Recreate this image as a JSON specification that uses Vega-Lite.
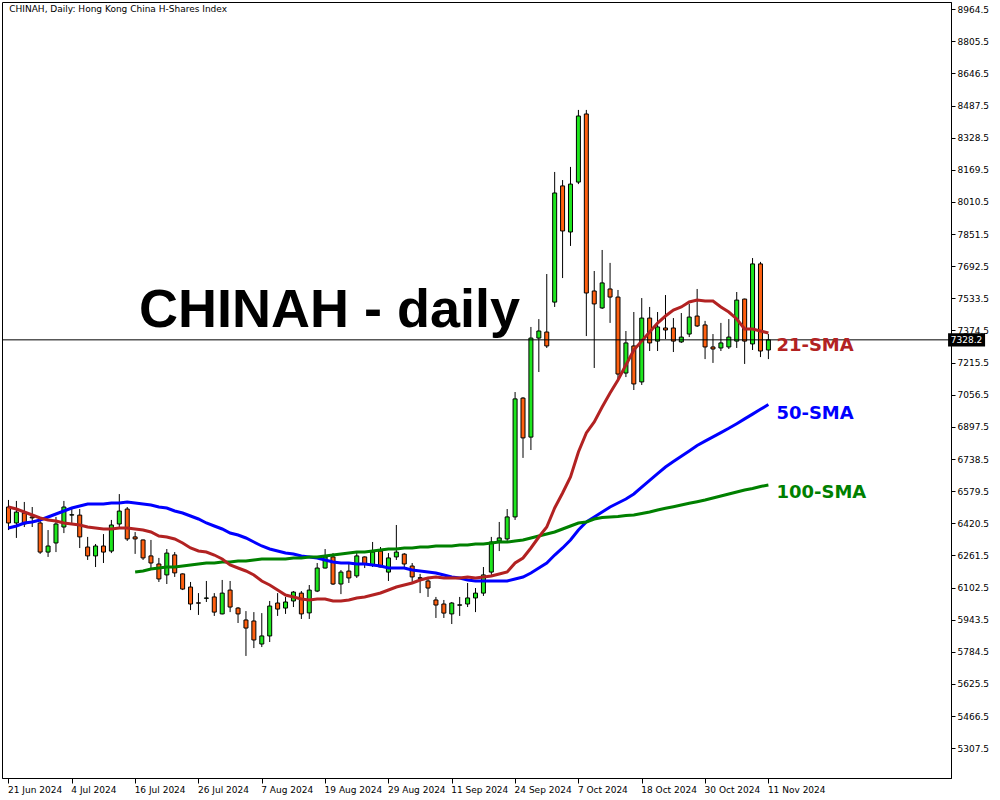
{
  "$schema": "https://vega.github.io/schema/vega-lite/v6.json",
  "width": 949,
  "height": 776,
  "autosize": "none",
  "padding": {"left": 2, "top": 2, "right": 49, "bottom": 22},
  "background": "white",
  "config": {
    "view": {"stroke": "black", "strokeWidth": 1},
    "axis": {"grid": false, "title": null, "domainColor": "black", "tickColor": "black", "labelColor": "black", "labelFont": "DejaVu Sans", "labelFontSize": 9, "labelOverlap": false, "labelFlush": false, "labelBound": false}
  },
  "data": {"values": [
    {"d": "2024-06-21", "i": 0, "o": 6501, "h": 6536, "l": 6387, "c": 6422, "s21": 6501.1, "s50": 6397.1, "s100": null},
    {"d": "2024-06-24", "i": 1, "o": 6422, "h": 6531, "l": 6348, "c": 6476, "s21": 6491.2, "s50": 6407.0, "s100": null},
    {"d": "2024-06-25", "i": 2, "o": 6471, "h": 6526, "l": 6402, "c": 6417, "s21": 6476.3, "s50": 6421.9, "s100": null},
    {"d": "2024-06-26", "i": 3, "o": 6452, "h": 6501, "l": 6402, "c": 6447, "s21": 6461.5, "s50": 6426.8, "s100": null},
    {"d": "2024-06-27", "i": 4, "o": 6422, "h": 6432, "l": 6269, "c": 6278, "s21": 6446.6, "s50": 6436.7, "s100": null},
    {"d": "2024-06-28", "i": 5, "o": 6278, "h": 6387, "l": 6254, "c": 6308, "s21": 6436.7, "s50": 6451.6, "s100": null},
    {"d": "2024-07-02", "i": 6, "o": 6323, "h": 6452, "l": 6278, "c": 6417, "s21": 6431.8, "s50": 6466.4, "s100": null},
    {"d": "2024-07-03", "i": 7, "o": 6402, "h": 6531, "l": 6372, "c": 6501, "s21": 6421.9, "s50": 6481.3, "s100": null},
    {"d": "2024-07-04", "i": 8, "o": 6461, "h": 6501, "l": 6422, "c": 6463, "s21": 6417.0, "s50": 6496.1, "s100": null},
    {"d": "2024-07-05", "i": 9, "o": 6461, "h": 6491, "l": 6298, "c": 6353, "s21": 6412.0, "s50": 6506.0, "s100": null},
    {"d": "2024-07-08", "i": 10, "o": 6303, "h": 6353, "l": 6239, "c": 6259, "s21": 6402.1, "s50": 6515.9, "s100": null},
    {"d": "2024-07-09", "i": 11, "o": 6259, "h": 6318, "l": 6204, "c": 6308, "s21": 6397.1, "s50": 6515.9, "s100": null},
    {"d": "2024-07-10", "i": 12, "o": 6308, "h": 6367, "l": 6224, "c": 6278, "s21": 6392.2, "s50": 6515.9, "s100": null},
    {"d": "2024-07-11", "i": 13, "o": 6283, "h": 6437, "l": 6273, "c": 6412, "s21": 6392.2, "s50": 6520.9, "s100": null},
    {"d": "2024-07-12", "i": 14, "o": 6417, "h": 6565, "l": 6402, "c": 6481, "s21": 6397.1, "s50": 6520.9, "s100": null},
    {"d": "2024-07-15", "i": 15, "o": 6491, "h": 6501, "l": 6333, "c": 6343, "s21": 6397.1, "s50": 6525.8, "s100": null},
    {"d": "2024-07-16", "i": 16, "o": 6353, "h": 6377, "l": 6269, "c": 6343, "s21": 6392.2, "s50": 6520.9, "s100": 6179.4},
    {"d": "2024-07-17", "i": 17, "o": 6338, "h": 6340, "l": 6239, "c": 6249, "s21": 6387.2, "s50": 6515.9, "s100": 6184.4},
    {"d": "2024-07-18", "i": 18, "o": 6259, "h": 6338, "l": 6199, "c": 6224, "s21": 6377.3, "s50": 6511.0, "s100": 6194.3},
    {"d": "2024-07-19", "i": 19, "o": 6219, "h": 6249, "l": 6130, "c": 6145, "s21": 6357.5, "s50": 6501.1, "s100": 6199.2},
    {"d": "2024-07-22", "i": 20, "o": 6165, "h": 6293, "l": 6120, "c": 6273, "s21": 6352.6, "s50": 6496.1, "s100": 6204.2},
    {"d": "2024-07-23", "i": 21, "o": 6264, "h": 6278, "l": 6155, "c": 6175, "s21": 6342.7, "s50": 6481.3, "s100": 6204.2},
    {"d": "2024-07-24", "i": 22, "o": 6170, "h": 6172, "l": 6090, "c": 6095, "s21": 6322.9, "s50": 6471.4, "s100": 6209.1},
    {"d": "2024-07-25", "i": 23, "o": 6105, "h": 6130, "l": 5991, "c": 6021, "s21": 6298.2, "s50": 6456.5, "s100": 6214.0},
    {"d": "2024-07-26", "i": 24, "o": 6027, "h": 6075, "l": 5967, "c": 6025, "s21": 6283.3, "s50": 6441.7, "s100": 6219.0},
    {"d": "2024-07-29", "i": 25, "o": 6049, "h": 6135, "l": 6031, "c": 6051, "s21": 6278.4, "s50": 6421.9, "s100": 6223.9},
    {"d": "2024-07-30", "i": 26, "o": 6056, "h": 6075, "l": 5962, "c": 5981, "s21": 6263.5, "s50": 6407.0, "s100": 6223.9},
    {"d": "2024-07-31", "i": 27, "o": 5972, "h": 6140, "l": 5970, "c": 6075, "s21": 6243.7, "s50": 6392.2, "s100": 6228.9},
    {"d": "2024-08-01", "i": 28, "o": 6090, "h": 6135, "l": 5981, "c": 6006, "s21": 6214.0, "s50": 6372.4, "s100": 6228.9},
    {"d": "2024-08-02", "i": 29, "o": 6001, "h": 6006, "l": 5927, "c": 5972, "s21": 6199.2, "s50": 6362.5, "s100": 6233.8},
    {"d": "2024-08-05", "i": 30, "o": 5942, "h": 5986, "l": 5764, "c": 5902, "s21": 6184.4, "s50": 6347.7, "s100": 6233.8},
    {"d": "2024-08-06", "i": 31, "o": 5937, "h": 5981, "l": 5803, "c": 5843, "s21": 6164.6, "s50": 6327.9, "s100": 6238.8},
    {"d": "2024-08-07", "i": 32, "o": 5823, "h": 5976, "l": 5808, "c": 5863, "s21": 6134.9, "s50": 6308.1, "s100": 6243.7},
    {"d": "2024-08-08", "i": 33, "o": 5863, "h": 6036, "l": 5833, "c": 6011, "s21": 6115.1, "s50": 6293.2, "s100": 6243.7},
    {"d": "2024-08-09", "i": 34, "o": 6026, "h": 6075, "l": 5962, "c": 5996, "s21": 6090.3, "s50": 6283.3, "s100": 6243.7},
    {"d": "2024-08-12", "i": 35, "o": 6001, "h": 6056, "l": 5972, "c": 6031, "s21": 6065.6, "s50": 6273.4, "s100": 6243.7},
    {"d": "2024-08-13", "i": 36, "o": 6036, "h": 6085, "l": 6006, "c": 6080, "s21": 6055.7, "s50": 6268.5, "s100": 6248.7},
    {"d": "2024-08-14", "i": 37, "o": 6075, "h": 6085, "l": 5947, "c": 5972, "s21": 6045.8, "s50": 6258.6, "s100": 6248.7},
    {"d": "2024-08-15", "i": 38, "o": 5977, "h": 6115, "l": 5947, "c": 6090, "s21": 6040.8, "s50": 6253.6, "s100": 6253.6},
    {"d": "2024-08-16", "i": 39, "o": 6085, "h": 6224, "l": 6080, "c": 6199, "s21": 6045.8, "s50": 6248.7, "s100": 6253.6},
    {"d": "2024-08-19", "i": 40, "o": 6199, "h": 6293, "l": 6197, "c": 6254, "s21": 6045.8, "s50": 6238.8, "s100": 6258.6},
    {"d": "2024-08-20", "i": 41, "o": 6254, "h": 6273, "l": 6115, "c": 6120, "s21": 6035.8, "s50": 6228.9, "s100": 6263.5},
    {"d": "2024-08-21", "i": 42, "o": 6120, "h": 6189, "l": 6070, "c": 6179, "s21": 6035.8, "s50": 6223.9, "s100": 6268.5},
    {"d": "2024-08-22", "i": 43, "o": 6184, "h": 6224, "l": 6125, "c": 6150, "s21": 6040.8, "s50": 6223.9, "s100": 6273.4},
    {"d": "2024-08-23", "i": 44, "o": 6160, "h": 6278, "l": 6150, "c": 6259, "s21": 6050.7, "s50": 6219.0, "s100": 6278.4},
    {"d": "2024-08-26", "i": 45, "o": 6254, "h": 6256, "l": 6199, "c": 6219, "s21": 6055.7, "s50": 6219.0, "s100": 6278.4},
    {"d": "2024-08-27", "i": 46, "o": 6214, "h": 6328, "l": 6204, "c": 6278, "s21": 6065.6, "s50": 6214.0, "s100": 6283.3},
    {"d": "2024-08-28", "i": 47, "o": 6283, "h": 6303, "l": 6203, "c": 6204, "s21": 6075.5, "s50": 6209.1, "s100": 6288.3},
    {"d": "2024-08-29", "i": 48, "o": 6179, "h": 6273, "l": 6135, "c": 6249, "s21": 6090.3, "s50": 6199.2, "s100": 6293.2},
    {"d": "2024-08-30", "i": 49, "o": 6254, "h": 6412, "l": 6239, "c": 6278, "s21": 6105.2, "s50": 6199.2, "s100": 6293.2},
    {"d": "2024-09-02", "i": 50, "o": 6268, "h": 6273, "l": 6199, "c": 6219, "s21": 6115.1, "s50": 6199.2, "s100": 6298.2},
    {"d": "2024-09-03", "i": 51, "o": 6209, "h": 6224, "l": 6130, "c": 6155, "s21": 6125.0, "s50": 6189.3, "s100": 6298.2},
    {"d": "2024-09-04", "i": 52, "o": 6151, "h": 6170, "l": 6075, "c": 6148, "s21": 6139.8, "s50": 6184.4, "s100": 6303.1},
    {"d": "2024-09-05", "i": 53, "o": 6135, "h": 6155, "l": 6056, "c": 6100, "s21": 6149.7, "s50": 6179.4, "s100": 6303.1},
    {"d": "2024-09-09", "i": 54, "o": 6041, "h": 6056, "l": 5952, "c": 6016, "s21": 6154.7, "s50": 6174.5, "s100": 6308.1},
    {"d": "2024-09-10", "i": 55, "o": 6021, "h": 6041, "l": 5952, "c": 5976, "s21": 6149.7, "s50": 6164.6, "s100": 6308.1},
    {"d": "2024-09-11", "i": 56, "o": 5972, "h": 6031, "l": 5922, "c": 6026, "s21": 6149.7, "s50": 6154.7, "s100": 6308.1},
    {"d": "2024-09-12", "i": 57, "o": 6015, "h": 6056, "l": 5962, "c": 6017, "s21": 6149.7, "s50": 6149.7, "s100": 6313.0},
    {"d": "2024-09-13", "i": 58, "o": 6021, "h": 6125, "l": 6006, "c": 6051, "s21": 6154.7, "s50": 6139.8, "s100": 6313.0},
    {"d": "2024-09-16", "i": 59, "o": 6051, "h": 6100, "l": 5981, "c": 6075, "s21": 6149.7, "s50": 6134.9, "s100": 6318.0},
    {"d": "2024-09-17", "i": 60, "o": 6075, "h": 6204, "l": 6061, "c": 6165, "s21": 6154.7, "s50": 6134.9, "s100": 6318.0},
    {"d": "2024-09-19", "i": 61, "o": 6179, "h": 6353, "l": 6165, "c": 6328, "s21": 6159.6, "s50": 6134.9, "s100": 6322.9},
    {"d": "2024-09-20", "i": 62, "o": 6333, "h": 6427, "l": 6283, "c": 6348, "s21": 6169.5, "s50": 6134.9, "s100": 6327.9},
    {"d": "2024-09-23", "i": 63, "o": 6343, "h": 6491, "l": 6333, "c": 6452, "s21": 6179.4, "s50": 6134.9, "s100": 6327.9},
    {"d": "2024-09-24", "i": 64, "o": 6452, "h": 7070, "l": 6437, "c": 7036, "s21": 6223.9, "s50": 6144.8, "s100": 6332.8},
    {"d": "2024-09-25", "i": 65, "o": 7040, "h": 7045, "l": 6744, "c": 6843, "s21": 6248.7, "s50": 6154.7, "s100": 6337.7},
    {"d": "2024-09-26", "i": 66, "o": 6847, "h": 7392, "l": 6783, "c": 7337, "s21": 6298.2, "s50": 6174.5, "s100": 6347.7},
    {"d": "2024-09-27", "i": 67, "o": 7337, "h": 7431, "l": 7169, "c": 7372, "s21": 6352.6, "s50": 6199.2, "s100": 6357.5},
    {"d": "2024-09-30", "i": 68, "o": 7367, "h": 7654, "l": 7288, "c": 7298, "s21": 6402.1, "s50": 6223.9, "s100": 6367.4},
    {"d": "2024-10-02", "i": 69, "o": 7515, "h": 8159, "l": 7491, "c": 8055, "s21": 6496.1, "s50": 6263.5, "s100": 6377.3},
    {"d": "2024-10-03", "i": 70, "o": 8090, "h": 8119, "l": 7634, "c": 7867, "s21": 6570.3, "s50": 6298.2, "s100": 6392.2},
    {"d": "2024-10-04", "i": 71, "o": 7862, "h": 8184, "l": 7793, "c": 8099, "s21": 6649.5, "s50": 6337.7, "s100": 6407.0},
    {"d": "2024-10-07", "i": 72, "o": 8109, "h": 8466, "l": 8099, "c": 8436, "s21": 6773.2, "s50": 6387.2, "s100": 6421.9},
    {"d": "2024-10-08", "i": 73, "o": 8446, "h": 8466, "l": 7347, "c": 7560, "s21": 6867.3, "s50": 6426.8, "s100": 6426.8},
    {"d": "2024-10-09", "i": 74, "o": 7570, "h": 7669, "l": 7189, "c": 7506, "s21": 6921.7, "s50": 6451.6, "s100": 6441.7},
    {"d": "2024-10-10", "i": 75, "o": 7486, "h": 7773, "l": 7481, "c": 7610, "s21": 6995.9, "s50": 6476.3, "s100": 6449.1},
    {"d": "2024-10-14", "i": 76, "o": 7580, "h": 7709, "l": 7412, "c": 7540, "s21": 7065.2, "s50": 6501.1, "s100": 6451.6},
    {"d": "2024-10-15", "i": 77, "o": 7540, "h": 7575, "l": 7130, "c": 7159, "s21": 7129.5, "s50": 6520.9, "s100": 6454.1},
    {"d": "2024-10-16", "i": 78, "o": 7164, "h": 7372, "l": 7144, "c": 7313, "s21": 7203.7, "s50": 6540.6, "s100": 6459.0},
    {"d": "2024-10-17", "i": 79, "o": 7298, "h": 7466, "l": 7080, "c": 7110, "s21": 7278.0, "s50": 6565.4, "s100": 6461.5},
    {"d": "2024-10-18", "i": 80, "o": 7120, "h": 7535, "l": 7105, "c": 7436, "s21": 7322.5, "s50": 6600.0, "s100": 6468.9},
    {"d": "2024-10-21", "i": 81, "o": 7436, "h": 7491, "l": 7273, "c": 7313, "s21": 7367.1, "s50": 6633.2, "s100": 6476.3},
    {"d": "2024-10-22", "i": 82, "o": 7322, "h": 7466, "l": 7273, "c": 7392, "s21": 7411.6, "s50": 6665.8, "s100": 6486.2},
    {"d": "2024-10-23", "i": 83, "o": 7387, "h": 7550, "l": 7332, "c": 7377, "s21": 7446.2, "s50": 6699.0, "s100": 6494.6},
    {"d": "2024-10-24", "i": 84, "o": 7387, "h": 7436, "l": 7268, "c": 7322, "s21": 7475.9, "s50": 6725.7, "s100": 6502.5},
    {"d": "2024-10-25", "i": 85, "o": 7318, "h": 7461, "l": 7313, "c": 7342, "s21": 7490.8, "s50": 6751.9, "s100": 6511.0},
    {"d": "2024-10-28", "i": 86, "o": 7357, "h": 7506, "l": 7342, "c": 7441, "s21": 7515.5, "s50": 6778.7, "s100": 6519.3},
    {"d": "2024-10-29", "i": 87, "o": 7446, "h": 7580, "l": 7392, "c": 7397, "s21": 7525.4, "s50": 6805.4, "s100": 6527.3},
    {"d": "2024-10-30", "i": 88, "o": 7402, "h": 7422, "l": 7233, "c": 7293, "s21": 7520.4, "s50": 6827.2, "s100": 6535.7},
    {"d": "2024-10-31", "i": 89, "o": 7293, "h": 7357, "l": 7214, "c": 7283, "s21": 7520.4, "s50": 6847.9, "s100": 6545.6},
    {"d": "2024-11-01", "i": 90, "o": 7288, "h": 7412, "l": 7273, "c": 7313, "s21": 7490.8, "s50": 6869.2, "s100": 6555.5},
    {"d": "2024-11-04", "i": 91, "o": 7293, "h": 7431, "l": 7283, "c": 7342, "s21": 7466.0, "s50": 6890.5, "s100": 6565.4},
    {"d": "2024-11-05", "i": 92, "o": 7322, "h": 7565, "l": 7288, "c": 7525, "s21": 7431.4, "s50": 6913.3, "s100": 6575.3},
    {"d": "2024-11-06", "i": 93, "o": 7530, "h": 7532, "l": 7209, "c": 7322, "s21": 7381.9, "s50": 6937.0, "s100": 6585.2},
    {"d": "2024-11-07", "i": 94, "o": 7308, "h": 7733, "l": 7278, "c": 7704, "s21": 7381.9, "s50": 6960.8, "s100": 6592.6},
    {"d": "2024-11-08", "i": 95, "o": 7704, "h": 7714, "l": 7243, "c": 7273, "s21": 7372.0, "s50": 6984.5, "s100": 6602.5},
    {"d": "2024-11-11", "i": 96, "o": 7278, "h": 7357, "l": 7233, "c": 7328.2, "s21": 7362.1, "s50": 7008.3, "s100": 6610.0}
  ]},
  "layer": [
    {
      "mark": {"type": "rule", "color": "black", "strokeWidth": 1},
      "encoding": {
        "x": {"field": "i", "type": "quantitative", "scale": {"domain": [-0.1875, 118.4375], "nice": false, "zero": false},
          "axis": {"values": [0, 8, 16, 24, 32, 40, 48, 56, 64, 72, 80, 88, 96], "tickCount": 40,
            "labelExpr": "['21 Jun 2024','4 Jul 2024','16 Jul 2024','26 Jul 2024','7 Aug 2024','19 Aug 2024','29 Aug 2024','11 Sep 2024','24 Sep 2024','7 Oct 2024','18 Oct 2024','30 Oct 2024','11 Nov 2024'][round(datum.value / 8)]",
            "labelAlign": "left", "labelBaseline": "top", "labelPadding": 2, "labelOffset": -1, "tickSize": 5,
            "labelOverlap": false, "labelFlush": false, "labelBound": false}},
        "y": {"field": "l", "type": "quantitative", "scale": {"domain": [5160, 9000.1], "nice": false, "zero": false},
          "axis": {"orient": "right", "format": ".1f", "tickSize": 4, "labelPadding": 2, "tickCount": 60,
            "labelOverlap": false, "labelFlush": false, "labelBound": false, "labelSeparation": 0,
            "values": [5307.5, 5466.5, 5625.5, 5784.5, 5943.5, 6102.5, 6261.5, 6420.5, 6579.5, 6738.5, 6897.5, 7056.5, 7215.5, 7374.5, 7533.5, 7692.5, 7851.5, 8010.5, 8169.5, 8328.5, 8487.5, 8646.5, 8805.5, 8964.5]}},
        "y2": {"field": "h"}
      }
    },
    {
      "mark": {"type": "bar", "width": 4, "stroke": "black", "strokeWidth": 1},
      "encoding": {
        "x": {"field": "i", "type": "quantitative"},
        "y": {"field": "o", "type": "quantitative"},
        "y2": {"field": "c"},
        "fill": {"condition": {"test": "datum.c >= datum.o", "value": "#1ee61e"}, "value": "#ff6010"}
      }
    },
    {
      "mark": {"type": "line", "color": "#0000ff", "strokeWidth": 3},
      "encoding": {"x": {"field": "i", "type": "quantitative"}, "y": {"field": "s50", "type": "quantitative"}}
    },
    {
      "mark": {"type": "line", "color": "#008000", "strokeWidth": 3},
      "encoding": {"x": {"field": "i", "type": "quantitative"}, "y": {"field": "s100", "type": "quantitative"}}
    },
    {
      "mark": {"type": "line", "color": "#b22222", "strokeWidth": 3},
      "encoding": {"x": {"field": "i", "type": "quantitative"}, "y": {"field": "s21", "type": "quantitative"}}
    },
    {
      "transform": [{"filter": "datum.i == 96"}],
      "mark": {"type": "rule", "color": "black", "strokeWidth": 1},
      "encoding": {"y": {"field": "c", "type": "quantitative"}}
    },
    {
      "transform": [{"filter": "datum.i == 96"}],
      "mark": {"type": "point", "shape": "M0,-0.36H2V0.36H0Z", "size": 1369, "filled": true, "fill": "black", "opacity": 1, "strokeWidth": 0},
      "encoding": {"x": {"datum": 118.7}, "y": {"field": "c", "type": "quantitative"}}
    },
    {
      "transform": [{"filter": "datum.i == 96"}],
      "mark": {"type": "text", "align": "left", "baseline": "middle", "color": "white", "font": "DejaVu Sans", "fontSize": 9},
      "encoding": {"x": {"datum": 119.05}, "y": {"field": "c", "type": "quantitative"}, "text": {"field": "c", "format": ".1f"}}
    },
    {
      "transform": [{"filter": "datum.i == 96"}],
      "mark": {"type": "text", "align": "left", "baseline": "middle", "dx": 8, "dy": 13, "color": "#b22222", "font": "DejaVu Sans", "fontWeight": "bold", "fontSize": 18, "text": "21-SMA"},
      "encoding": {"x": {"field": "i", "type": "quantitative"}, "y": {"field": "s21", "type": "quantitative"}}
    },
    {
      "transform": [{"filter": "datum.i == 96"}],
      "mark": {"type": "text", "align": "left", "baseline": "middle", "dx": 8, "dy": 10, "color": "#0000ff", "font": "DejaVu Sans", "fontWeight": "bold", "fontSize": 18, "text": "50-SMA"},
      "encoding": {"x": {"field": "i", "type": "quantitative"}, "y": {"field": "s50", "type": "quantitative"}}
    },
    {
      "transform": [{"filter": "datum.i == 96"}],
      "mark": {"type": "text", "align": "left", "baseline": "middle", "dx": 8, "dy": 8, "color": "#008000", "font": "DejaVu Sans", "fontWeight": "bold", "fontSize": 18, "text": "100-SMA"},
      "encoding": {"x": {"field": "i", "type": "quantitative"}, "y": {"field": "s100", "type": "quantitative"}}
    },
    {
      "data": {"values": [{"t": "CHINAH - daily"}]},
      "mark": {"type": "text", "align": "left", "baseline": "alphabetic", "color": "black", "font": "Liberation Sans", "fontWeight": "bold", "fontSize": 54},
      "encoding": {"x": {"datum": 16.5}, "y": {"datum": 7391.8}, "text": {"field": "t"}}
    },
    {
      "data": {"values": [{"t": "CHINAH, Daily:  Hong Kong China H-Shares Index"}]},
      "mark": {"type": "text", "align": "left", "baseline": "middle", "color": "black", "font": "DejaVu Sans", "fontSize": 9},
      "encoding": {"x": {"datum": 0.1}, "y": {"datum": 8965.5}, "text": {"field": "t"}}
    }
  ]
}
